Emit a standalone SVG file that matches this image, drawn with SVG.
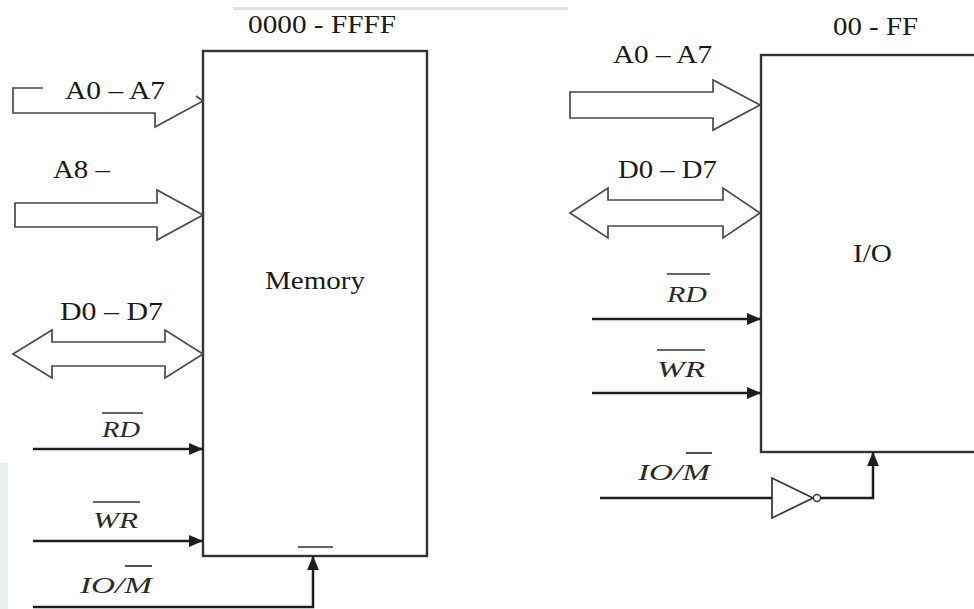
<svg xmlns="http://www.w3.org/2000/svg" width="974" height="609" viewBox="0 0 974 609">
  <style>
    .box { fill: #ffffff; stroke: #333333; stroke-width: 2.4; }
    .bus { fill: #ffffff; stroke: #4a4a4a; stroke-width: 1.7; stroke-linejoin: miter; }
    .sig { fill: none; stroke: #1e1e1e; stroke-width: 2.5; }
    .thin { fill: none; stroke: #333333; stroke-width: 1.7; }
    .lbl { font-family: "Liberation Serif", "Times New Roman", serif; font-size: 26px; fill: #1a1a1a; }
    .it { font-family: "Liberation Serif", "Times New Roman", serif; font-size: 24px; font-style: italic; fill: #2a2a2a; }
    .ov { stroke: #333333; stroke-width: 1.7; }
  </style>
  <defs>
    <marker id="ah" viewBox="0 0 14 12" refX="14" refY="6" markerWidth="14" markerHeight="12" markerUnits="userSpaceOnUse" orient="auto">
      <path d="M0,0 L14,6 L0,12 Z" fill="#1e1e1e"/>
    </marker>
  </defs>
  <rect width="974" height="609" fill="#ffffff"/>
  <!-- background artifacts -->
  <rect x="233" y="7" width="335" height="3" fill="#e2e2e2"/>
  <rect x="0" y="463" width="8" height="146" fill="#e9eff0"/>

  <g id="memory">
    <rect class="box" x="203" y="51" width="224" height="505"/>
    <text class="lbl" x="265" y="289" textLength="100" lengthAdjust="spacingAndGlyphs">Memory</text>
    <text class="lbl" x="248" y="33" textLength="148" lengthAdjust="spacingAndGlyphs">0000 - FFFF</text>
    <line class="thin" x1="298" y1="547" x2="333" y2="547"/>
  </g>

  <g id="io">
    <rect class="box" x="761" y="55" width="240" height="397"/>
    <text class="lbl" x="853" y="262" textLength="39" lengthAdjust="spacingAndGlyphs">I/O</text>
    <text class="lbl" x="833" y="35" textLength="85" lengthAdjust="spacingAndGlyphs">00 - FF</text>
  </g>

  <g id="inverter">
    <polygon class="thin" fill="#ffffff" points="772,478 772,518 813,498"/>
    <circle cx="817" cy="498" r="3.5" fill="#ffffff" stroke="#333333" stroke-width="1.4"/>
  </g>

  <g id="connectors">
    <!-- left buses -->
    <polyline class="bus" fill="none" points="43,88 13,88 13,113 155,113 155,127 203,101 196,96"/>
    <polygon class="bus" points="15,203 157,203 157,190 203,215 157,240 157,227 15,227"/>
    <polygon class="bus" points="13,354 52,330 52,342 165,342 165,330 203,354 165,378 165,366 52,366 52,378"/>
    <!-- left signals -->
    <line class="sig" x1="33" y1="449" x2="203" y2="449" marker-end="url(#ah)"/>
    <line class="sig" x1="33" y1="541" x2="203" y2="541" marker-end="url(#ah)"/>
    <polyline class="sig" points="33,607 313,607 313,556" marker-end="url(#ah)"/>
    <!-- right buses -->
    <polygon class="bus" points="570,92 713,92 713,80 760,105 713,130 713,118 570,118"/>
    <polygon class="bus" points="570,213 608,188 608,200 723,200 723,188 760,213 723,238 723,226 608,226 608,238"/>
    <!-- right signals -->
    <line class="sig" x1="592" y1="319" x2="761" y2="319" marker-end="url(#ah)"/>
    <line class="sig" x1="592" y1="393" x2="761" y2="393" marker-end="url(#ah)"/>
    <line class="sig" x1="600" y1="498" x2="772" y2="498"/>
    <polyline class="sig" points="820.5,498 873,498 873,452" marker-end="url(#ah)"/>
  </g>

  <g id="labels-left">
    <text class="lbl" x="65" y="99" textLength="100" lengthAdjust="spacingAndGlyphs">A0 – A7</text>
    <text class="lbl" x="53" y="178" textLength="57" lengthAdjust="spacingAndGlyphs">A8 –</text>
    <text class="lbl" x="60" y="320" textLength="103" lengthAdjust="spacingAndGlyphs">D0 – D7</text>
    <text class="it" x="102" y="437" textLength="38" lengthAdjust="spacingAndGlyphs">RD</text>
    <line class="ov" x1="102" y1="413" x2="143" y2="413"/>
    <text class="it" x="93" y="528" textLength="45" lengthAdjust="spacingAndGlyphs">WR</text>
    <line class="ov" x1="93" y1="502" x2="140" y2="502"/>
    <text class="it" x="80" y="593" textLength="72" lengthAdjust="spacingAndGlyphs">IO/M</text>
    <line class="ov" x1="125" y1="566" x2="152" y2="566"/>
  </g>

  <g id="labels-right">
    <text class="lbl" x="613" y="63" textLength="99" lengthAdjust="spacingAndGlyphs">A0 – A7</text>
    <text class="lbl" x="618" y="178" textLength="99" lengthAdjust="spacingAndGlyphs">D0 – D7</text>
    <text class="it" x="667" y="302" textLength="40" lengthAdjust="spacingAndGlyphs">RD</text>
    <line class="ov" x1="667" y1="274" x2="710" y2="274"/>
    <text class="it" x="657" y="377" textLength="48" lengthAdjust="spacingAndGlyphs">WR</text>
    <line class="ov" x1="657" y1="350" x2="705" y2="350"/>
    <text class="it" x="638" y="480" textLength="72" lengthAdjust="spacingAndGlyphs">IO/M</text>
    <line class="ov" x1="686" y1="453" x2="712" y2="453"/>
  </g>
</svg>
